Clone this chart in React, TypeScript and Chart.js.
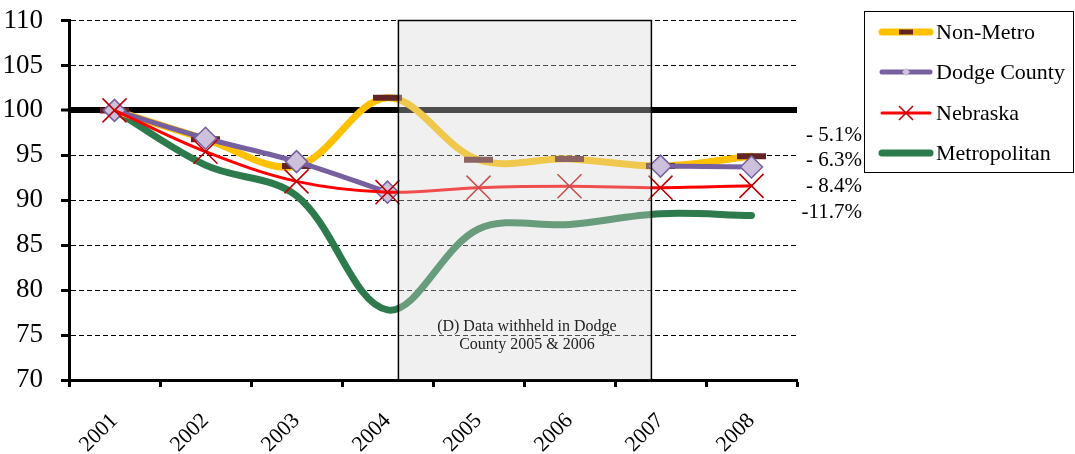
import React, { useEffect, useRef } from 'react';
import { Chart, registerables } from 'chart.js';

Chart.register(...registerables);

const FONT = "'Liberation Serif', serif";

// ---- data ----
const years = ['2001', '2002', '2003', '2004', '2005', '2006', '2007', '2008'];
const nonMetro = [100, 96.8, 93.8, 101.4, 94.5, 94.6, 93.8, 94.9];
const dodgeCounty = [100, 96.9, 94.3, 90.9, null, null, 93.8, 93.7];
const nebraska = [100, 95.4, 92.1, 90.9, 91.4, 91.55, 91.4, 91.6];
const metropolitan = [100, 93.9, 90.5, 77.8, 86.8, 87.3, 88.5, 88.3];
const seriesNames = ['Non-Metro', 'Dodge County', 'Nebraska', 'Metropolitan'];
const changeLabels = ['- 5.1%', '- 6.3%', '- 8.4%', '-11.7%'];
const withheldNote = ['(D) Data withheld in Dodge', 'County 2005 & 2006'];
const withheldFrom = 3.12; // category position (between 2004 and 2005)
const withheldTo = 5.9; // category position (just before 2007)
const yMin = 70;
const yMax = 110;
const yStep = 5;
const baseline = 100;

export default function App() {
  const ref = useRef<HTMLCanvasElement>(null);

  useEffect(() => {
    const canvas = ref.current;
    if (!canvas) return;
    let chart: any = null;
    let cancelled = false;

    const withheldPlugin = {
      id: 'withheld',
      afterDatasetsDraw(c: any) {
        const { ctx, chartArea, scales } = c;
        const x = scales.x;
        const l = x.getPixelForValue(withheldFrom);
        const r = x.getPixelForValue(withheldTo);
        const t = chartArea.top;
        const b = chartArea.bottom;
        ctx.save();
        ctx.fillStyle = 'rgba(214,214,214,0.36)';
        ctx.fillRect(l, t, r - l, b - t);
        ctx.strokeStyle = '#000';
        ctx.lineWidth = 1.5;
        ctx.strokeRect(l, t, r - l, b - t);
        ctx.fillStyle = '#222';
        ctx.font = `16px ${FONT}`;
        ctx.textAlign = 'center';
        ctx.textBaseline = 'middle';
        const cx = (l + r) / 2 + 2;
        ctx.fillText(withheldNote[0], cx, 327);
        ctx.fillText(withheldNote[1], cx, 345);
        ctx.restore();
      },
    };

    const sidePlugin = {
      id: 'side',
      afterDraw(c: any) {
        const { ctx } = c;
        ctx.save();
        ctx.fillStyle = '#000';
        ctx.font = `21px ${FONT}`;
        ctx.textAlign = 'right';
        ctx.textBaseline = 'middle';
        const ys = [135, 160, 186, 212];
        changeLabels.forEach((s, i) => ctx.fillText(s, 862, ys[i]));

        ctx.strokeStyle = '#000';
        ctx.lineWidth = 1;
        ctx.strokeRect(864.5, 11.5, 209, 161);
        const rows = [32, 72, 113, 153];
        const ds = c.data.datasets;
        ctx.textAlign = 'left';
        ctx.font = `22px ${FONT}`;
        ds.forEach((d: any, i: number) => {
          const y = rows[i];
          ctx.save();
          ctx.lineCap = 'round';
          ctx.strokeStyle = d.borderColor;
          ctx.lineWidth = d.borderWidth;
          ctx.beginPath();
          ctx.moveTo(882, y);
          ctx.lineTo(930, y);
          ctx.stroke();
          ctx.lineCap = 'butt';
          if (d.pointStyle === 'line') {
            ctx.strokeStyle = d.pointBorderColor;
            ctx.lineWidth = 5;
            ctx.beginPath();
            ctx.moveTo(899, y);
            ctx.lineTo(913, y);
            ctx.stroke();
          } else if (d.pointStyle === 'rectRot') {
            ctx.fillStyle = d.pointBackgroundColor;
            ctx.beginPath();
            ctx.moveTo(906, y - 4);
            ctx.lineTo(910, y);
            ctx.lineTo(906, y + 4);
            ctx.lineTo(902, y);
            ctx.closePath();
            ctx.fill();
          } else if (d.pointStyle === 'crossRot') {
            ctx.strokeStyle = d.pointBorderColor;
            ctx.lineWidth = 1.5;
            ctx.beginPath();
            ctx.moveTo(899, y - 7);
            ctx.lineTo(913, y + 7);
            ctx.moveTo(913, y - 7);
            ctx.lineTo(899, y + 7);
            ctx.stroke();
          }
          ctx.restore();
          ctx.fillStyle = '#000';
          ctx.fillText(d.label, 936, y + 1);
        });
        ctx.restore();
      },
    };

    const build = () => {
      if (cancelled) return;
      chart = new Chart(canvas, {
        type: 'line',
        data: {
          labels: years,
          datasets: [
            {
              label: seriesNames[0],
              data: nonMetro,
              borderColor: '#FFC000',
              borderWidth: 7,
              tension: 0.35,
              pointStyle: 'line',
              pointRadius: 14.5,
              pointBorderColor: '#632523',
              pointBackgroundColor: '#632523',
              pointBorderWidth: 6,
              borderCapStyle: 'round',
              borderJoinStyle: 'round',
              order: 2,
            },
            {
              label: seriesNames[1],
              data: dodgeCounty,
              borderColor: '#7660A0',
              borderWidth: 5,
              tension: 0.35,
              spanGaps: false,
              pointStyle: 'rectRot',
              pointRadius: 11,
              pointBackgroundColor: '#CCC0DA',
              pointBorderColor: '#7660A0',
              pointBorderWidth: 1.5,
              borderCapStyle: 'round',
              borderJoinStyle: 'round',
              order: 1,
            },
            {
              label: seriesNames[2],
              data: nebraska,
              borderColor: '#FF0000',
              borderWidth: 3,
              tension: 0.35,
              pointStyle: 'crossRot',
              pointRadius: 17,
              pointBorderColor: '#C00000',
              pointBackgroundColor: '#C00000',
              pointBorderWidth: 1.5,
              borderCapStyle: 'round',
              order: 0,
            },
            {
              label: seriesNames[3],
              data: metropolitan,
              borderColor: '#2D7B4C',
              borderWidth: 7,
              tension: 0.35,
              pointRadius: 0,
              borderCapStyle: 'round',
              borderJoinStyle: 'round',
              order: 3,
            },
          ],
        },
        options: {
          animation: false,
          responsive: true,
          maintainAspectRatio: false,
          layout: { padding: { left: 0, top: 12, right: 278, bottom: 0 } },
          plugins: {
            legend: { display: false },
            tooltip: { enabled: false },
          },
          scales: {
            x: {
              offset: true,
              grid: {
                offset: true,
                drawOnChartArea: false,
                drawTicks: true,
                tickLength: 7,
                tickWidth: 3,
                tickColor: '#000',
              },
              border: { display: true, color: '#000', width: 3 },
              ticks: {
                color: '#000',
                font: { family: FONT, size: 22 },
                minRotation: 45,
                maxRotation: 45,
                autoSkip: false,
                padding: 21,
              },
              afterFit: (s: any) => {
                s.height = 74;
                s.paddingLeft = 0;
                s.paddingRight = 0;
              },
            },
            y: {
              min: yMin,
              max: yMax,
              ticks: {
                stepSize: yStep,
                color: '#000',
                font: { family: FONT, size: 27 },
                padding: 18,
              },
              grid: {
                color: '#000',
                lineWidth: (c: any) => (c.tick && c.tick.value === baseline ? 6 : 1),
                tickLength: 8,
                tickWidth: 3,
                tickColor: '#000',
              },
              border: {
                display: true,
                color: '#000',
                width: 3,
                dash: (c: any) => (c.tick && c.tick.value === baseline ? [] : [5, 3]),
              },
              afterFit: (s: any) => {
                s.width = 69;
                s.paddingTop = 0;
                s.paddingBottom = 0;
              },
            },
          },
        },
        plugins: [withheldPlugin, sidePlugin],
      } as any);
    };

    const fontsApi: any = (document as any).fonts;
    if (fontsApi && fontsApi.load) {
      Promise.all([
        fontsApi.load(`22px 'Liberation Serif'`),
        fontsApi.load(`27px 'Liberation Serif'`),
      ])
        .catch(() => null)
        .then(() => build());
    } else {
      build();
    }

    return () => {
      cancelled = true;
      if (chart) chart.destroy();
    };
  }, []);

  return (
    <div style={{ position: 'fixed', left: 0, top: 0, width: 1075, height: 454, background: '#fff' }}>
      <span style={{ fontFamily: "'Liberation Serif'", position: 'absolute', left: -9999, top: 0 }}>0</span>
      <canvas ref={ref} />
    </div>
  );
}
